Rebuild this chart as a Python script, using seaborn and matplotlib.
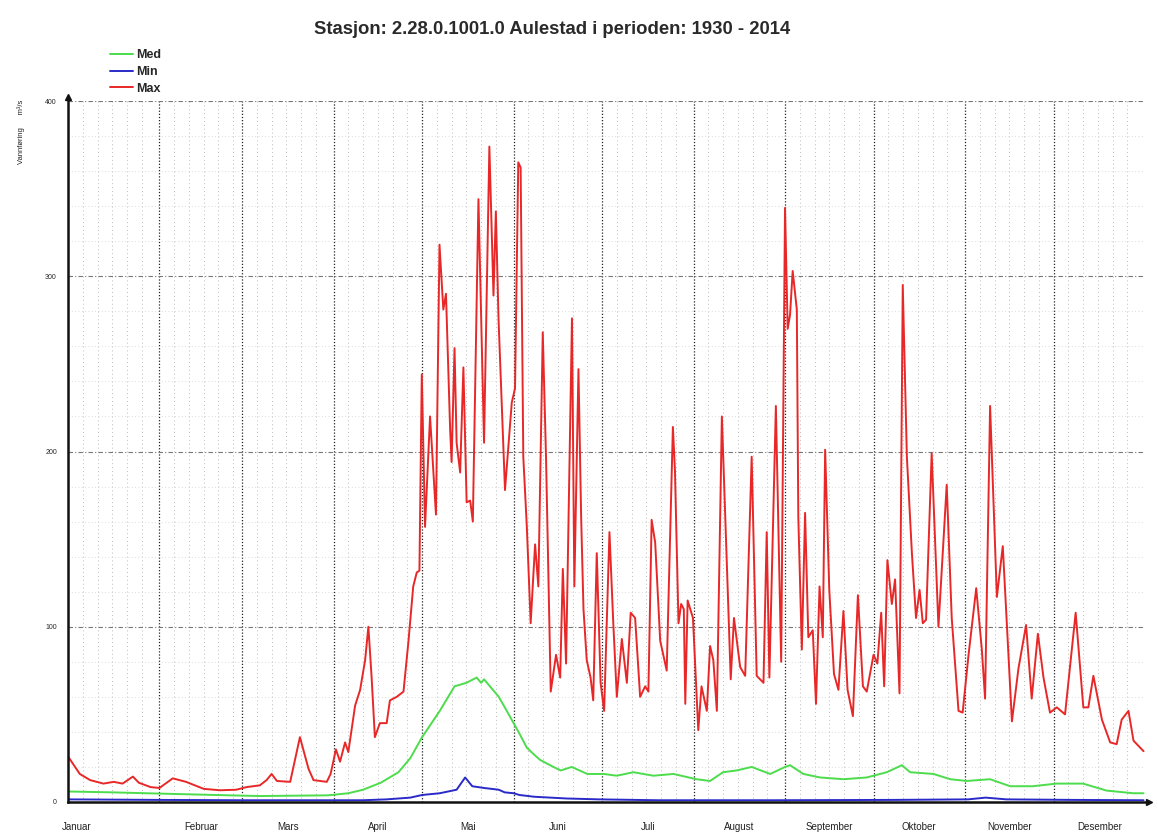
import numpy as np
import pandas as pd
import matplotlib
matplotlib.use("Agg")
import matplotlib.pyplot as plt
import seaborn as sns

# =========================
# 1. Data (day of year from 1 Jan, m3/s)
# =========================
max_day = [0, 4, 7.5, 12, 15.5, 18.5, 22, 24, 28, 31, 35.5, 40, 46, 51.5, 57, 60.5, 65, 67.3, 69,
           70.8, 75.3, 78.6, 81.5, 83.2, 87.7, 89, 90.8, 92.2, 93.9, 95, 97.3, 99, 100.7, 101.8,
           102.9, 104, 105.7, 108, 109.1, 111.4, 113.7, 115.4, 117, 118.2, 119.1, 119.9, 121,
           122.7, 124.7, 125.9, 127.2, 128.1, 129.5, 130, 131, 131.7, 132.9, 134, 135.1, 136.3,
           137.2, 139.1, 141, 142.8, 144.2, 145, 145.9, 148.1, 150.4, 151.5, 152.6, 153.4, 154.3,
           155.5, 156.8, 158.3, 159.4, 160.9, 162, 163.6, 165.4, 166.8, 167.7, 168.8, 170.8,
           171.6, 173, 173.9, 174.7, 175.8, 177.1, 178, 179.2, 180.5, 181.7, 183.5, 184.8, 186,
           187.7, 189.4, 190.7, 192.2, 193.9, 195.6, 196.7, 197.8, 199, 200.7, 202.9, 205, 205.7,
           206.9, 207.8, 208.7, 209.2, 210, 211.8, 213.6, 214.7, 216.5, 217.6, 218.7, 219.9,
           221.6, 223.3, 224.6, 225.7, 227.8, 229.5, 231.7, 233.4, 235.7, 236.8, 237.7, 239.9,
           241.7, 243, 243.9, 244.7, 245.6, 247, 247.5, 248.7, 249.8, 250.9, 252.4, 253.5, 254.7,
           255.8, 256.6, 258, 259.6, 261.1, 262.8, 264.2, 266, 267.7, 269.4, 270.7, 273, 274.3,
           275.6, 276.6, 277.7, 279.2, 280.3, 281.8, 282.9, 284.3, 286, 287.4, 288.6, 289.7,
           290.8, 292.7, 295, 297.8, 299.5, 301.8, 303.2, 305.2, 307.8, 309.7, 310.8, 312.5,
           314.8, 316.8, 318.2, 319.9, 322.1, 324.7, 326.6, 328.7, 330.6, 332.8, 335.1, 337.9,
           341.5, 344.1, 345.8, 347.5, 350.4, 353.2, 355.4, 357.1, 359.4, 361.1, 364.5]
max_val = [26, 16, 12.5, 10.5, 11.5, 10.5, 14.5, 11, 8.5, 8, 13.5, 11.5, 7.5, 6.7, 7, 8.5, 9.5, 12.5, 16,
           12, 11.5, 37, 19, 12.5, 11.5, 16, 30, 23, 34, 28.5, 55, 64, 81, 100,
           71, 37, 45, 45, 58, 60, 63, 92, 123, 131, 132, 244, 157,
           220, 164, 318, 281, 290, 213, 194, 259, 205, 188, 248, 171, 172,
           160, 344, 205, 374, 289, 337, 276, 178, 228, 236, 365, 362, 197,
           157, 102, 147, 123, 268, 197, 63, 84, 71, 133, 79, 276,
           123, 247, 163, 110, 81, 71, 58, 142, 68, 52, 154, 102, 60,
           93, 68, 108, 105, 60, 66, 63, 161, 148, 92, 75, 214, 189,
           102, 113, 110, 56, 115, 105, 41, 66, 52, 89, 81, 52,
           220, 136, 70, 105, 77, 72, 197, 72, 68, 154, 71, 226,
           80, 339, 270, 278, 303, 281, 163, 87, 165, 94, 98, 56, 123,
           94, 201, 121, 73, 64, 109, 64, 49, 118, 66, 63, 84, 79,
           108, 66, 138, 113, 127, 62, 295, 197, 142, 105, 121, 102,
           104, 199, 100, 181, 105, 52, 51, 84, 122, 87, 59, 226,
           117, 146, 101, 46, 76, 101, 59, 96, 71, 51, 54, 50,
           108, 54, 54, 72, 47, 34, 33, 47, 52, 35, 29]

med_day = [0, 15, 31, 50, 65, 88, 95, 100, 106, 112, 116, 120, 126, 131, 135, 138.5, 140, 141, 143,
           146, 148.7, 153, 155.5, 158, 160, 164.5, 167, 170.7, 176, 181.5, 186, 191.6, 198.4,
           205.2, 213, 217.6, 222, 226.6, 231.7, 238, 243, 244.7, 249.2, 254.9, 262.8, 270.7,
           277.5, 282.6, 285.4, 293.3, 299, 304.6, 312.5, 319.3, 327, 335, 344, 352, 361, 364.5]
med_val = [6, 5.5, 4.8, 4, 3.4, 3.8, 5, 7, 11, 17, 25, 37, 52, 66, 68, 71, 68, 70, 66,
           60, 52, 39, 31, 27, 24, 20, 18, 20, 16, 16, 15, 17, 15,
           16, 13, 12, 17, 18, 20, 16, 20, 21, 16, 14, 13, 14,
           17, 21, 17, 16, 13, 12, 13, 9, 9, 10.5, 10.5, 6.5, 5, 5]

min_day = [0, 30, 60, 90, 100, 108, 116, 120, 126, 131.7, 134.6, 137, 141, 146, 148, 151, 153, 158,
           169, 180, 200, 240, 280, 305, 311, 318, 340, 364.5]
min_val = [1.5, 1.2, 1, 1, 1, 1.5, 2.5, 4, 5, 7, 14, 9, 8, 7, 5.5, 5, 4, 3,
           2, 1.5, 1, 1, 1.2, 1.5, 2.5, 1.5, 1.2, 1]

months = ["Januar", "Februar", "Mars", "April", "Mai", "Juni", "Juli", "August",
          "September", "Oktober", "November", "Desember"]
month_len = [31, 28, 31, 30, 31, 30, 31, 31, 30, 31, 30, 31]

df = pd.concat([
    pd.DataFrame({"dag": med_day, "q": med_val, "serie": "Med"}),
    pd.DataFrame({"dag": min_day, "q": min_val, "serie": "Min"}),
    pd.DataFrame({"dag": max_day, "q": max_val, "serie": "Max"}),
])

# =========================
# 2. Figure
# =========================
sns.set_style("white")
plt.rcParams["font.family"] = ["Liberation Sans", "DejaVu Sans"]

fig = plt.figure(figsize=(11.58, 8.35), dpi=100)
ax = fig.add_axes([68 / 1158, 1 - 802 / 835, (1145 - 68) / 1158, (802 - 101) / 835])

farger = {"Med": "#4cdc4c", "Min": "#2a2ac8", "Max": "#e82828"}
sns.lineplot(data=df, x="dag", y="q", hue="serie", palette=farger, estimator=None,
             sort=True, linewidth=1.4, ax=ax, legend=False)

ax.set_xlim(0, 365)
ax.set_ylim(0, 400)

starts = np.concatenate([[0], np.cumsum(month_len)])
minor = [s + k for s in starts[:-1] for k in (5, 10, 15, 20, 25)]

# grid
ax.set_xticks(starts[:-1])
ax.set_xticks(minor, minor=True)
ax.set_yticks([0, 100, 200, 300, 400])
ax.set_yticks(np.arange(20, 400, 20), minor=True)
for s in starts[1:-1]:
    ax.axvline(s, color="#222222", lw=0.9, ls=(0, (1, 1.5)), zorder=0)
for m in minor:
    ax.axvline(m, color="#bbbbbb", lw=0.7, ls=(0, (1, 3)), zorder=0)
for v in np.arange(20, 400, 20):
    if v % 100:
        ax.axhline(v, color="#d0d0d0", lw=0.6, ls=(0, (1, 3)), zorder=0)
for v in [100, 200, 300, 400]:
    ax.axhline(v, color="#777777", lw=0.8, ls=(0, (4, 2, 1, 2)), zorder=0)

# axes look
for side in ["top", "right"]:
    ax.spines[side].set_visible(False)
ax.spines["left"].set_linewidth(1.8)
ax.spines["bottom"].set_linewidth(1.8)
ax.spines["left"].set_color("#111111")
ax.spines["bottom"].set_color("#111111")
ax.plot(0, 1.005, marker="^", color="#111111", ms=5, transform=ax.transAxes, clip_on=False)
ax.plot(1.004, 0, marker=">", color="#111111", ms=5, transform=ax.transAxes, clip_on=False)

ax.tick_params(axis="x", which="major", direction="out", length=12, width=2.2, labelbottom=False)
ax.tick_params(axis="x", which="minor", direction="out", length=4, width=1.0)
ax.tick_params(axis="y", which="major", direction="out", length=3, width=1.5, labelsize=5, pad=5)
ax.tick_params(axis="y", which="minor", length=0)
ax.set_xlabel("")
ax.set_ylabel("")

for i, navn in enumerate(months):
    pos = 3 if i == 0 else starts[i] + month_len[i] / 2
    ax.text(pos, -0.036, navn, transform=ax.get_xaxis_transform(), ha="center", va="center",
            fontsize=7, color="#222222")

fig.text(0.018, 1 - 132 / 835, "Vannføring      m³/s", rotation=90, ha="center", va="center",
         fontsize=5.5, color="#222222")

fig.text(552 / 1158, 1 - 30 / 835, "Stasjon: 2.28.0.1001.0 Aulestad i perioden: 1930 - 2014",
         ha="center", va="center", fontsize=13.3, fontweight="bold", color="#2a2a2a")

# legend
handles = [plt.Line2D([], [], color=farger[k], lw=1.4) for k in ["Med", "Min", "Max"]]
fig.legend(handles, ["Med", "Min", "Max"], loc="upper left",
           bbox_to_anchor=(104 / 1158, 1 - 43 / 835), frameon=False,
           prop={"size": 9, "weight": "bold"}, handlelength=1.8, handletextpad=0.3,
           labelspacing=0.38, borderpad=0)

fig.savefig("out.png", dpi=100)
